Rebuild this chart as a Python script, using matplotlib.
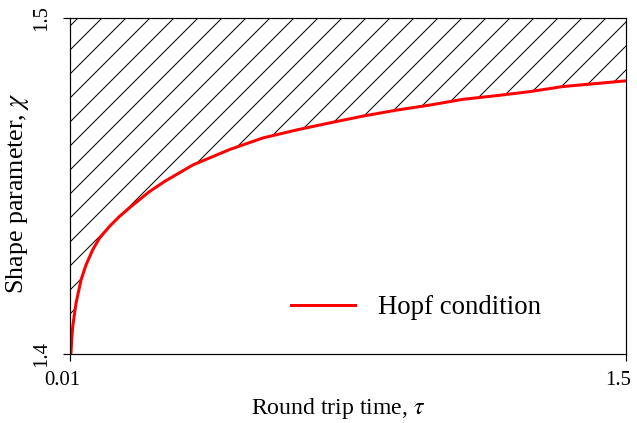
import numpy as np
import matplotlib
matplotlib.use('Agg')
import matplotlib.pyplot as plt
from matplotlib.transforms import ScaledTranslation

# Hopf condition curve
tau = [0.01, 0.0127, 0.0145, 0.0172, 0.0261, 0.0395, 0.0529, 0.0708, 0.0885,
       0.1153, 0.1421, 0.178, 0.2225, 0.2627, 0.340, 0.4388, 0.527, 0.618,
       0.707, 0.795, 0.886, 0.975, 1.063, 1.154, 1.243, 1.331, 1.5]
chi = [1.4, 1.4002, 1.4042, 1.4081, 1.4151, 1.4220, 1.4265, 1.4310, 1.4344,
       1.4379, 1.4409, 1.4443, 1.4483, 1.4513, 1.4563, 1.4609, 1.4643, 1.4667,
       1.4688, 1.4708, 1.4726, 1.4741, 1.4758, 1.4769, 1.4781, 1.4796, 1.4813]

xticks = [0.01, 1.5]
yticks = [1.4, 1.5]

plt.rcParams['font.family'] = ['Liberation Serif', 'DejaVu Serif']
plt.rcParams['mathtext.fontset'] = 'stix'
plt.rcParams['hatch.linewidth'] = 0.5
plt.rcParams['axes.linewidth'] = 0.6

dpi = 144
fig = plt.figure(figsize=(637/dpi, 423/dpi), dpi=dpi)
ax = fig.add_axes([70/637, 1-354/423, 556/637, 336/423])

ax.fill_between(tau, chi, 1.5, hatch='//', facecolor='none', edgecolor='black', linewidth=0)
ax.plot(tau, chi, color='red', linewidth=1.5, label='Hopf condition',
        solid_joinstyle='round')

ax.set_xlim(0.01, 1.5)
ax.set_ylim(1.4, 1.5)
ax.set_xticks(xticks)
ax.set_xticklabels(['0.01', '1.5'])
ax.set_yticks(yticks)
ax.set_yticklabels(['1.4', '1.5'], rotation=90, va='center')
ax.tick_params(direction='out', length=3.5, width=0.6, labelsize=10.3, pad=5)
ax.tick_params(axis='y', pad=6)
for lab in ax.get_xticklabels():
    lab.set_transform(lab.get_transform() + ScaledTranslation(-8/dpi, 0, fig.dpi_scale_trans))

ax.set_xlabel(r'Round trip time, $\tau$', fontsize=11.9)
ax.xaxis.set_label_coords((338-70)/556, -0.125)
ax.set_ylabel(r'Shape parameter, $\chi$', fontsize=13)
ax.yaxis.set_label_coords(-0.07, 0.48)

ax.legend(loc='center left', bbox_to_anchor=((291-70)/556, (354-308)/336),
          frameon=False, fontsize=13.4, handlelength=2.4, handletextpad=0.85,
          borderpad=0, borderaxespad=0)

plt.savefig('out.png', dpi=dpi)
